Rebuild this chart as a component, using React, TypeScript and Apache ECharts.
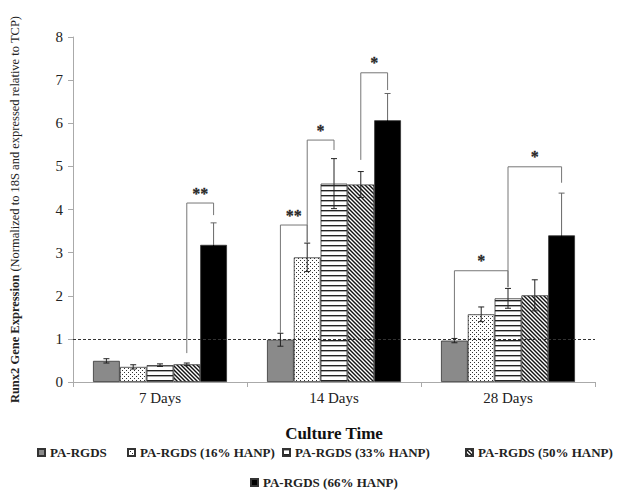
import React, { useEffect, useRef } from "react";
import * as echarts from "echarts";

const categories = ["7 Days", "14 Days", "28 Days"];
const seriesNames = [
  "PA-RGDS",
  "PA-RGDS (16% HANP)",
  "PA-RGDS (33% HANP)",
  "PA-RGDS (50% HANP)",
  "PA-RGDS (66% HANP)",
];
const rgds = [0.49, 0.98, 0.96];
const hanp16 = [0.35, 2.89, 1.57];
const hanp33 = [0.39, 4.6, 1.94];
const hanp50 = [0.41, 4.58, 2.01];
const hanp66 = [3.18, 6.07, 3.4];
const errRgds = [0.05, 0.15, 0.05];
const errH16 = [0.05, 0.33, 0.17];
const errH33 = [0.03, 0.58, 0.23];
const errH50 = [0.03, 0.3, 0.36];
const errH66 = [0.51, 0.62, 0.98];
const yTicks = [0, 1, 2, 3, 4, 5, 6, 7, 8];

// significance brackets
const brCat = [0, 1, 1, 1, 2, 2];
const brFrom = [3, 0, 1, 3, 0, 2];
const brTo = [4, 1, 2, 4, 2, 4];
const brLeftBase = [0.67, 1.14, 3.22, 5.15, 1.02, 2.2];
const brTop = [4.15, 3.64, 5.61, 7.17, 2.58, 4.99];
const brRightBase = [3.87, 3.25, 5.38, 6.77, 2.2, 4.62];
const brLabel = ["**", "**", "*", "*", "*", "*"];

const GAP = 0.23;
const FONT = "'Liberation Serif', 'Times New Roman', serif";

function makeTile(w: number, h: number, draw: (ctx: CanvasRenderingContext2D) => void) {
  const c = document.createElement("canvas");
  c.width = w;
  c.height = h;
  const ctx = c.getContext("2d")!;
  ctx.fillStyle = "#ffffff";
  ctx.fillRect(0, 0, w, h);
  draw(ctx);
  return { image: c, repeat: "repeat", imageWidth: w, imageHeight: h } as any;
}

export default function App() {
  const ref = useRef<HTMLDivElement>(null);
  useEffect(() => {
    if (!ref.current) return;
    const dots = makeTile(4, 4, (ctx) => {
      ctx.fillStyle = "#333";
      ctx.fillRect(0, 0, 1, 1);
      ctx.fillRect(2, 2, 1, 1);
    });
    const hlines = makeTile(4, 5, (ctx) => {
      ctx.fillStyle = "#222";
      ctx.fillRect(0, 0, 4, 1);
      ctx.fillStyle = "#aaa";
      ctx.fillRect(0, 1, 4, 1);
    });
    const diag = makeTile(4, 4, (ctx) => {
      ctx.strokeStyle = "#111";
      ctx.lineWidth = 1.4;
      for (let o = -4; o <= 4; o += 4) {
        ctx.beginPath();
        ctx.moveTo(o - 1, -1);
        ctx.lineTo(o + 5, 5);
        ctx.stroke();
      }
    });
    const fills = ["#8a8a8a", dots, hlines, diag, "#000000"];
    const values = [rgds, hanp16, hanp33, hanp50, hanp66];
    const errs = [errRgds, errH16, errH33, errH50, errH66];

    const chart = echarts.init(ref.current, null, { renderer: "svg" });

    const barSeries: any[] = seriesNames.map((name, i) => ({
      name,
      type: "bar",
      data: values[i],
      barGap: "0%",
      barCategoryGap: GAP * 100 + "%",
      itemStyle: { color: fills[i], borderColor: "#333", borderWidth: 0.8 },
      emphasis: { disabled: true },
      markLine:
        i === 0
          ? {
              silent: true,
              symbol: "none",
              label: { show: false },
              lineStyle: { type: [3, 2], color: "#333", width: 1 },
              data: [{ yAxis: 1 }],
            }
          : undefined,
      z: 2,
    }));

    const errData: number[][] = [];
    values.forEach((arr, si) =>
      arr.forEach((v, ci) => errData.push([ci, si, v, errs[si][ci]]))
    );

    const brData = brCat.map((c, i) => [c, brFrom[i], brTo[i], brLeftBase[i], brTop[i], brRightBase[i], i]);

    const barX = (api: any, cat: number, idx: number) => {
      const center = api.coord([cat, 0])[0];
      const band = api.size([1, 0])[0];
      const bw = (band * (1 - GAP)) / 5;
      return center + (idx - 2) * bw;
    };

    chart.setOption({
      animation: false,
      grid: { left: 72, right: 30, top: 37, bottom: 115 },
      legend: [
        { left: 32, top: 441 },
        { left: 122, top: 441 },
        { left: 277, top: 441 },
        { left: 460, top: 441 },
        { left: 245, top: 471 },
      ].map((p, i) => ({
        ...p,
        data: [seriesNames[i]],
        icon: "rect",
        itemWidth: 7,
        itemHeight: 7,
        selectedMode: false,
        textStyle: { fontFamily: FONT, fontWeight: "bold", fontSize: 13, color: "#222" },
      })),
      xAxis: {
        type: "category",
        data: categories,
        name: "Culture Time",
        nameLocation: "middle",
        nameGap: 43,
        nameTextStyle: { fontFamily: FONT, fontWeight: "bold", fontSize: 17, color: "#111" },
        axisLine: { lineStyle: { color: "#aaa" } },
        axisTick: { show: true, length: 5, lineStyle: { color: "#aaa" } },
        axisLabel: { fontFamily: FONT, fontSize: 15, color: "#222", margin: 8 },
      },
      yAxis: {
        type: "value",
        min: 0,
        max: 8,
        interval: 1,
        name: "{b|Runx2 Gene Expression} (Normalized to 18S and expressed relative to TCP)",
        nameLocation: "middle",
        nameGap: 52,
        nameTextStyle: {
          fontFamily: FONT,
          fontSize: 12.5,
          color: "#222",
          rich: { b: { fontFamily: FONT, fontSize: 12.5, fontWeight: "bold", color: "#222" } },
        },
        axisLine: { show: true, lineStyle: { color: "#aaa" } },
        axisTick: { show: true, length: 5, lineStyle: { color: "#aaa" } },
        splitLine: { show: false },
        axisLabel: {
          fontFamily: FONT,
          fontSize: 15,
          color: "#222",
          margin: 10,
          formatter: (v: number) => (yTicks.includes(v) ? String(v) : ""),
        },
      },
      series: [
        ...barSeries,
        {
          type: "custom",
          silent: true,
          z: 5,
          colorBy: "series",
          itemStyle: { color: "#222" },
          data: errData,
          renderItem: (params: any, api: any) => {
            const cat = api.value(0);
            const si = api.value(1);
            const v = api.value(2);
            const e = api.value(3);
            const x = barX(api, cat, si);
            const yv = api.coord([cat, v])[1];
            const yt = api.coord([cat, v + e])[1];
            const yb = api.coord([cat, v - e])[1];
            const color = si === 4 ? "#666" : "#222";
            const lower = si === 4 ? "#000" : "#222";
            const cap = 3;
            return {
              type: "group",
              children: [
                { type: "line", shape: { x1: x, y1: yt, x2: x, y2: yv }, style: { stroke: color, lineWidth: 1 } },
                { type: "line", shape: { x1: x, y1: yv, x2: x, y2: yb }, style: { stroke: lower, lineWidth: 1 } },
                { type: "line", shape: { x1: x - cap, y1: yt, x2: x + cap, y2: yt }, style: { stroke: color, lineWidth: 1 } },
                { type: "line", shape: { x1: x - cap, y1: yb, x2: x + cap, y2: yb }, style: { stroke: lower, lineWidth: 1 } },
              ],
            };
          },
        },
        {
          type: "custom",
          silent: true,
          z: 6,
          colorBy: "series",
          itemStyle: { color: "#222" },
          data: brData,
          renderItem: (params: any, api: any) => {
            const cat = api.value(0);
            const x1 = barX(api, cat, api.value(1));
            const x2 = barX(api, cat, api.value(2));
            const yl = api.coord([cat, api.value(3)])[1];
            const yt = api.coord([cat, api.value(4)])[1];
            const yr = api.coord([cat, api.value(5)])[1];
            const idx = api.value(6);
            return {
              type: "group",
              children: [
                {
                  type: "polyline",
                  shape: { points: [[x1, yl], [x1, yt], [x2, yt], [x2, yr]] },
                  style: { stroke: "#777", lineWidth: 1, fill: "none" },
                },
                {
                  type: "text",
                  x: (x1 + x2) / 2,
                  y: yt - 2,
                  style: {
                    text: brLabel[idx],
                    align: "center",
                    verticalAlign: "bottom",
                    font: "bold 16px 'Liberation Serif', serif",
                    fill: "#222222",
                    stroke: "#222222",
                    lineWidth: 0.3,
                    opacity: 0.99,
                  },
                },
              ],
            };
          },
        },
      ],
    });
    return () => chart.dispose();
  }, []);
  return <div ref={ref} style={{ width: 625, height: 497, position: "absolute", left: 0, top: 0 }} />;
}
